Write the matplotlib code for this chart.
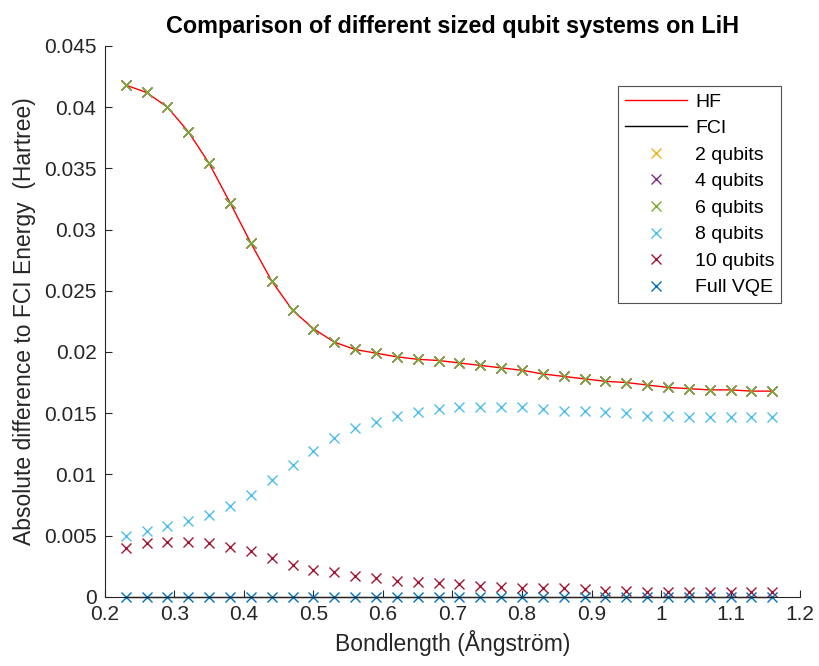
import matplotlib
matplotlib.use('Agg')
import matplotlib.pyplot as plt
from matplotlib.ticker import FuncFormatter

plt.rcParams['font.family'] = ['Liberation Sans', 'DejaVu Sans']

# bond lengths (Angstrom)
bond = [0.23, 0.26, 0.29, 0.32, 0.35, 0.38, 0.41, 0.44, 0.47, 0.50, 0.53,
        0.56, 0.59, 0.62, 0.65, 0.68, 0.71, 0.74, 0.77, 0.80, 0.83, 0.86,
        0.89, 0.92, 0.95, 0.98, 1.01, 1.04, 1.07, 1.10, 1.13, 1.16]

hf = [0.0418, 0.0412, 0.0400, 0.0380, 0.0354, 0.0322, 0.0289, 0.0258,
      0.0234, 0.0219, 0.0208, 0.0202, 0.0199, 0.0196, 0.0194, 0.0193,
      0.0191, 0.0189, 0.0187, 0.0185, 0.0182, 0.0180, 0.0178, 0.0176,
      0.0175, 0.0173, 0.0171, 0.0170, 0.0169, 0.0169, 0.0168, 0.0168]
fci = [0.0] * len(bond)

q2 = hf
q4 = hf
q6 = hf
q8 = [0.0050, 0.0054, 0.0058, 0.0062, 0.0067, 0.0074, 0.0083, 0.0095,
      0.0108, 0.0119, 0.0130, 0.0138, 0.0143, 0.0148, 0.0151, 0.0153,
      0.0155, 0.0155, 0.0155, 0.0155, 0.0153, 0.0152, 0.0152, 0.0151,
      0.0150, 0.0148, 0.0148, 0.0147, 0.0147, 0.0147, 0.0147, 0.0147]
q10 = [0.0040, 0.0044, 0.0045, 0.0045, 0.0044, 0.0041, 0.0037, 0.0032,
       0.0026, 0.0022, 0.0020, 0.0017, 0.0015, 0.0013, 0.0012, 0.0011,
       0.0010, 0.0009, 0.0008, 0.0007, 0.0007, 0.0007, 0.0006, 0.0005,
       0.0005, 0.0004, 0.0004, 0.0004, 0.00036, 0.00036, 0.00036, 0.00036]
full_vqe = [0.0] * len(bond)

series = [
    ('2 qubits', q2, (0.929, 0.694, 0.125)),
    ('4 qubits', q4, (0.494, 0.184, 0.556)),
    ('6 qubits', q6, (0.466, 0.674, 0.188)),
    ('8 qubits', q8, (0.301, 0.745, 0.933)),
    ('10 qubits', q10, (0.635, 0.078, 0.184)),
    ('Full VQE', full_vqe, (0.0, 0.447, 0.741)),
]

fig = plt.figure(figsize=(8.19, 6.66), dpi=100)
ax = fig.add_axes([0.128, 0.104, 0.849, 0.827])

ax.plot(bond, hf, color='red', lw=1.0, label='HF')
ax.plot(bond, fci, color='black', lw=1.0, label='FCI', clip_on=False)
for name, vals, col in series:
    ax.plot(bond, vals, 'x', color=col, ms=6.5, mew=1.0, label=name,
            clip_on=False)

ax.set_xlim(0.2, 1.2)
ax.set_ylim(0, 0.045)
ax.set_xticks([0.2 + 0.1 * i for i in range(11)])
ax.set_yticks([0.005 * i for i in range(10)])
fmt = FuncFormatter(lambda v, p: '%g' % round(v, 4))
ax.xaxis.set_major_formatter(fmt)
ax.yaxis.set_major_formatter(fmt)

ax.spines['top'].set_visible(False)
ax.spines['right'].set_visible(False)
for s in ('left', 'bottom'):
    ax.spines[s].set_color('#262626')
    ax.spines[s].set_linewidth(0.8)
ax.tick_params(direction='in', length=5, width=0.8, colors='#262626',
               labelsize=15, labelcolor='#262626', pad=6)

ax.set_title('Comparison of different sized qubit systems on LiH',
             fontsize=16.8, fontweight='bold', pad=9)
ax.set_xlabel('Bondlength (Ångström)', fontsize=16.5, color='#262626',
              labelpad=4)
ax.set_ylabel('Absolute difference to FCI Energy  (Hartree)', fontsize=16.5,
              color='#262626', labelpad=6)

leg = ax.legend(loc='upper right', bbox_to_anchor=(0.973, 0.927),
                borderaxespad=0, fontsize=14, frameon=True, fancybox=False,
                edgecolor='#262626', handlelength=3.2, handletextpad=0.4,
                labelspacing=0.46, borderpad=0.35)
leg.get_frame().set_linewidth(0.8)

fig.savefig('out.png', dpi=100)
